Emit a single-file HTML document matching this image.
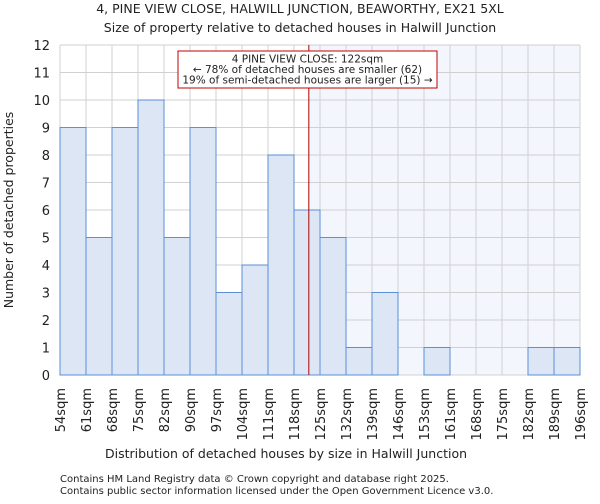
<!DOCTYPE html>
<html><head><meta charset="utf-8"><style>
body{margin:0;background:#fff;font-family:"DejaVu Sans","Liberation Sans",sans-serif;}
svg text{font-family:"DejaVu Sans","Liberation Sans",sans-serif;fill:#222;}
</style></head><body>
<svg id="chart" width="600" height="500" xmlns="http://www.w3.org/2000/svg">
<text x="300" y="13" font-size="12.5" text-anchor="middle">4, PINE VIEW CLOSE, HALWILL JUNCTION, BEAWORTHY, EX21 5XL</text>
<text x="300" y="32" font-size="12.5" text-anchor="middle">Size of property relative to detached houses in Halwill Junction</text>
<g id="plot"></g>
<text x="286" y="458" font-size="12.5" text-anchor="middle">Distribution of detached houses by size in Halwill Junction</text>
<text transform="translate(13,210) rotate(-90)" font-size="12.5" text-anchor="middle">Number of detached properties</text>
<text x="60" y="482" font-size="10" fill="#444">Contains HM Land Registry data © Crown copyright and database right 2025.</text>
<text x="60" y="494" font-size="10" fill="#444">Contains public sector information licensed under the Open Government Licence v3.0.</text>
</svg>
<script>
const binLabels=["54sqm","61sqm","68sqm","75sqm","82sqm","90sqm","97sqm","104sqm","111sqm","118sqm","125sqm","132sqm","139sqm","146sqm","153sqm","161sqm","168sqm","175sqm","182sqm","189sqm","196sqm"];
const counts=[9,5,9,10,5,9,3,4,8,6,5,1,3,0,1,0,0,0,1,1];
const yTicks=[0,1,2,3,4,5,6,7,8,9,10,11,12];
const markerBin=9.57;
const NS="http://www.w3.org/2000/svg";
const g=document.getElementById("plot");
const X0=60,X1=580,Y0=375,Y1=45,YMAX=12;
const nb=counts.length,bw=(X1-X0)/nb;
const xs=i=>X0+i*bw, ys=v=>Y0-(v/YMAX)*(Y0-Y1);
function el(t,a){const e=document.createElementNS(NS,t);for(const k in a)e.setAttribute(k,a[k]);g.appendChild(e);return e;}
const mx=xs(markerBin);
let sh=el("rect",{x:mx,y:Y1,width:X1-mx,height:Y0-Y1,fill:"#f3f6fd"});


yTicks.forEach(v=>{let l=el("line",{x1:X0,x2:X1,y1:ys(v),y2:ys(v),stroke:"#d0d0d0","stroke-width":1});


let t=el("text",{x:X0-10,y:ys(v)+5,"font-size":13,"text-anchor":"end"});t.textContent=v;

});
binLabels.forEach((s,i)=>{let l=el("line",{x1:xs(i),x2:xs(i),y1:Y1,y2:Y0,stroke:"#d0d0d0","stroke-width":1});


let t=el("text",{transform:`translate(${xs(i)+5},388) rotate(-90)`,"font-size":13,"text-anchor":"end"});t.textContent=s;

});
counts.forEach((c,i)=>{if(!c)return;let r=el("rect",{x:xs(i),y:ys(c),width:bw,height:Y0-ys(c),fill:"#dce6f5",stroke:"#5b8fd6","stroke-width":1});

});
let ml=el("line",{x1:mx,x2:mx,y1:Y1,y2:Y0,stroke:"#b00000","stroke-width":1});


let bx=el("rect",{x:178,y:51,width:259,height:37,fill:"#fff",stroke:"#c00000","stroke-width":1});


["4 PINE VIEW CLOSE: 122sqm","← 78% of detached houses are smaller (62)","19% of semi-detached houses are larger (15) →"].forEach((s,k)=>{let t=el("text",{x:307.5,y:62.5+k*10.5,"font-size":10.5,"text-anchor":"middle"});t.textContent=s;

});
</script>
</body></html>
